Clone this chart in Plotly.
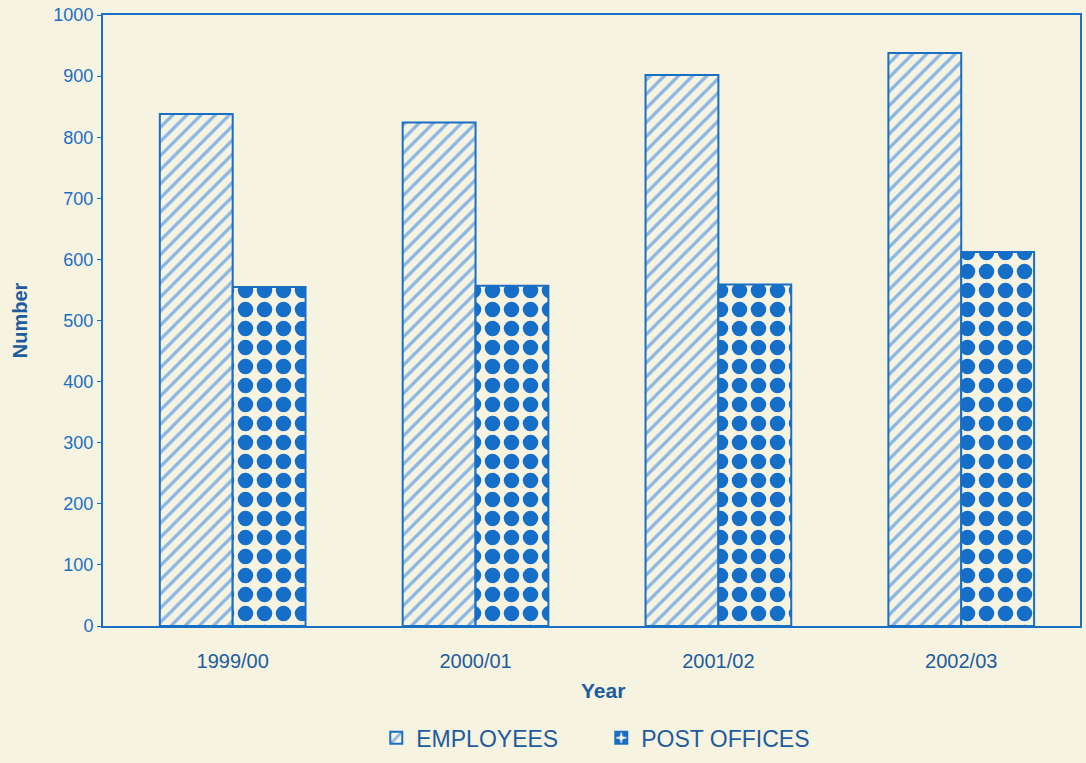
import plotly.graph_objects as go

years = ["1999/00", "2000/01", "2001/02", "2002/03"]
employees = [838, 824, 902, 938]
post_offices = [555, 557, 559, 612]
y_ticks = [0, 100, 200, 300, 400, 500, 600, 700, 800, 900, 1000]

BLUE = "#1b6fc2"
DARK = "#1d5c9e"
CREAM = "#f7f3e1"
FONT = "Liberation Sans, Arial, sans-serif"

fig = go.Figure()
fig.add_trace(go.Bar(
    name="EMPLOYEES", x=years, y=employees,
    marker=dict(color=CREAM, line=dict(color=BLUE, width=2),
                pattern=dict(shape="/", fgcolor="#8ab6e4", bgcolor=CREAM, fgopacity=1,
                             size=10, solidity=0.32, fillmode="overlay")),
))
fig.add_trace(go.Bar(
    name="POST OFFICES", x=years, y=post_offices,
    marker=dict(color=CREAM, line=dict(color=BLUE, width=2),
                pattern=dict(shape=".", fgcolor="#156fc8", bgcolor=CREAM, fgopacity=1,
                             size=19, solidity=0.52, fillmode="overlay")),
))

fig.update_layout(
    width=1086, height=763,
    paper_bgcolor=CREAM, plot_bgcolor=CREAM,
    margin=dict(l=103, r=4, t=15, b=135),
    barmode="group", bargap=0.4, bargroupgap=0,
    font=dict(family=FONT, color=BLUE, size=17),
    showlegend=True,
    legend=dict(orientation="h", x=0.51, xanchor="center", y=-0.183, yanchor="middle",
                font=dict(size=23, color=DARK), bgcolor="rgba(0,0,0,0)",
                entrywidth=180, entrywidthmode="pixels", itemsizing="constant"),
)
fig.update_xaxes(
    range=[-0.534, 3.489],
    showline=True, linecolor=BLUE, linewidth=2, mirror=True,
    ticks="", showgrid=False, ticklabelstandoff=16,
    tickfont=dict(size=20, color=DARK),
    title=dict(text="&nbsp;&nbsp;&nbsp;&nbsp;<b>Year</b>", font=dict(size=21, color=DARK), standoff=12),
)
fig.update_yaxes(
    range=[0, 1000], tickvals=y_ticks, showline=True, linecolor=BLUE, linewidth=2,
    mirror=True, ticks="outside", ticklen=4, tickcolor=BLUE, showgrid=False,
    zeroline=False, tickfont=dict(size=18, color=BLUE), ticklabelstandoff=0,
    title=dict(text="<b>Number</b>", font=dict(size=20, color=DARK), standoff=20),
)

fig.write_html("out.html", config={"displayModeBar": False},
               post_script="document.body.style.margin='0';document.body.style.background='" + CREAM + "';")
